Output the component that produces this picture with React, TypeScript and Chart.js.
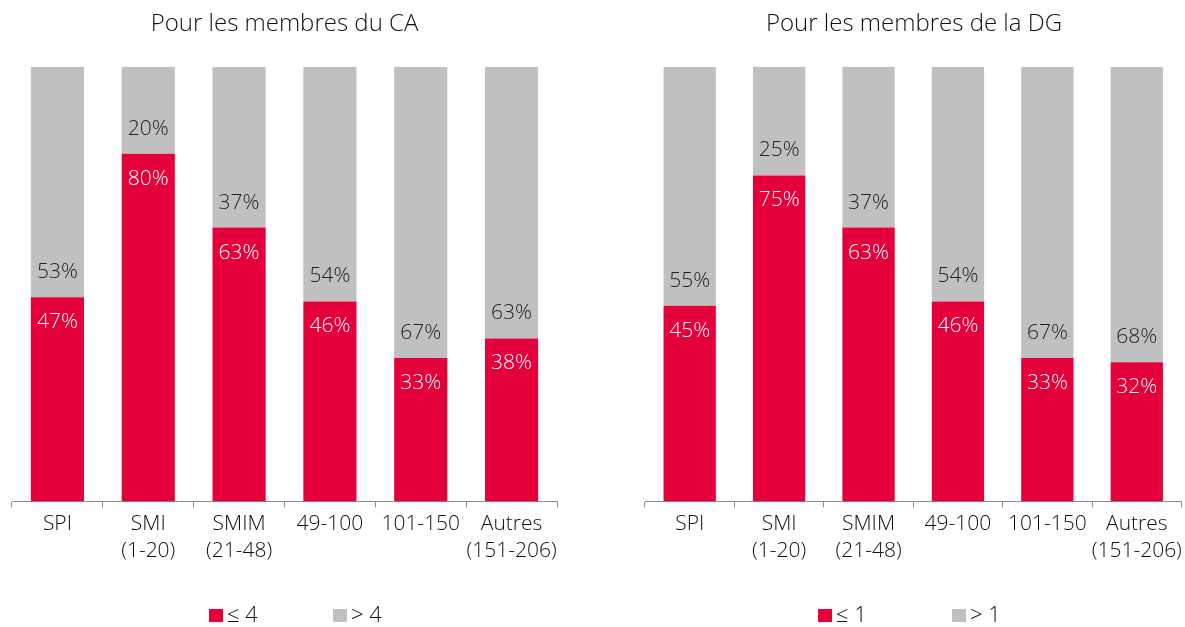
import React, { useEffect, useRef } from "react";
import { Chart, registerables } from "chart.js";

Chart.register(...registerables);

const categories: (string | string[])[] = [
  "SPI",
  ["SMI", "(1-20)"],
  ["SMIM", "(21-48)"],
  "49-100",
  "101-150",
  ["Autres", "(151-206)"],
];

const caTitle = "Pour les membres du CA";
const caLow = [47, 80, 63, 46, 33, 37.5];
const caHigh = [53, 20, 37, 54, 67, 62.5];
const caLegend = ["≤ 4", "> 4"];

const dgTitle = "Pour les membres de la DG";
const dgLow = [45, 75, 63, 46, 33, 32];
const dgHigh = [55, 25, 37, 54, 67, 68];
const dgLegend = ["≤ 1", "> 1"];

const RED = "#E4003A";
const GRAY = "#C0C0C0";
const FONT = "'Open Sans', 'Liberation Sans', Arial, sans-serif";

const labelPlugin = {
  id: "segLabels",
  afterDatasetsDraw(chart: any) {
    const ctx = chart.ctx;
    ctx.save();
    ctx.font = `300 21px ${FONT}`;
    ctx.textAlign = "center";
    ctx.textBaseline = "middle";
    const m0 = chart.getDatasetMeta(0);
    const ds0 = chart.data.datasets[0].data;
    const ds1 = chart.data.datasets[1].data;
    m0.data.forEach((bar: any, i: number) => {
      const top = bar.y;
      ctx.fillStyle = "#FFFFFF";
      ctx.fillText(Math.round(ds0[i]) + "%", bar.x, top + 25);
      ctx.fillStyle = "#222222";
      ctx.fillText(Math.round(ds1[i]) + "%", bar.x, top - 25);
    });
    ctx.restore();
  },
};

const legendPlugin = {
  id: "fixedLegend",
  afterDraw(chart: any, _args: any, opts: any) {
    const ctx = chart.ctx;
    const colors = [RED, GRAY];
    ctx.save();
    ctx.font = `300 22px ${FONT}`;
    ctx.textAlign = "left";
    ctx.textBaseline = "middle";
    (opts.items || []).forEach((text: string, i: number) => {
      const x = opts.xs[i];
      ctx.fillStyle = colors[i];
      ctx.fillRect(x, 609, 14, 13);
      ctx.fillStyle = "#111111";
      ctx.fillText(text, x + 18, 616);
    });
    ctx.restore();
  },
};

function BarChart({ title, low, high, padLeft, padRight, width, legend, legendXs }: any) {
  const ref = useRef<HTMLCanvasElement>(null);
  useEffect(() => {
    const chart = new Chart(ref.current as HTMLCanvasElement, {
      type: "bar",
      data: {
        labels: categories,
        datasets: [
          { data: low, backgroundColor: RED, barPercentage: 0.585, categoryPercentage: 1 },
          { data: high, backgroundColor: GRAY, barPercentage: 0.585, categoryPercentage: 1 },
        ],
      },
      options: {
        animation: false,
        responsive: false,
        maintainAspectRatio: false,
        layout: { padding: { left: padLeft, right: padRight, top: 0, bottom: 59 } },
        plugins: {
          legend: { display: false },
          tooltip: { enabled: false },
          title: {
            display: true,
            text: title,
            color: "#111111",
            font: { family: FONT, size: 24, weight: "300" as any, lineHeight: 1.2 },
            padding: { top: 10, bottom: 28 },
          },
          fixedLegend: { items: legend, xs: legendXs },
        } as any,
        scales: {
          x: {
            stacked: true,
            grid: {
              display: true,
              drawOnChartArea: false,
              drawTicks: true,
              tickLength: 6,
              color: "#8C8C8C",
              offset: true,
            },
            border: { display: true, color: "#8C8C8C", width: 1 },
            ticks: {
              color: "#111111",
              padding: 3,
              maxRotation: 0,
              autoSkip: false,
              font: { family: FONT, size: 21, weight: "300" as any, lineHeight: 1.3 },
            },
          },
          y: {
            stacked: true,
            display: false,
            min: 0,
            max: 100,
          },
        },
      },
      plugins: [labelPlugin, legendPlugin],
    });
    return () => chart.destroy();
  }, []);
  return <canvas ref={ref} width={width} height={627} style={{ display: "block" }} />;
}

export default function App() {
  return (
    <div style={{ position: "absolute", left: 0, top: 0, width: 1185, height: 627, background: "#fff", overflow: "hidden" }}>
      <div style={{ position: "absolute", left: 0, top: 0, width: 600, height: 627 }}>
        <BarChart title={caTitle} low={caLow} high={caHigh} padLeft={12} padRight={43} width={600}
          legend={caLegend} legendXs={[209, 333]} />
      </div>
      <div style={{ position: "absolute", left: 600, top: 0, width: 585, height: 627 }}>
        <BarChart title={dgTitle} low={dgLow} high={dgHigh} padLeft={45} padRight={2} width={585}
          legend={dgLegend} legendXs={[218, 352]} />
      </div>
    </div>
  );
}
